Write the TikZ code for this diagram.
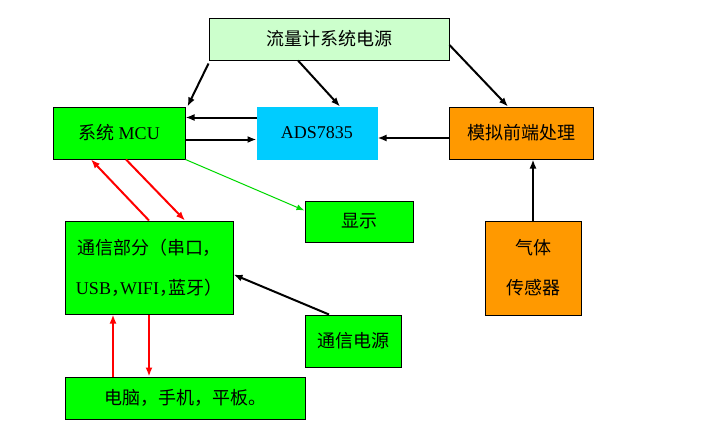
\documentclass[tikz,border=0pt]{standalone}
\usepackage{fontspec}
\setmainfont{Liberation Serif}
\newfontfamily\cjk{Noto Sans CJK SC}
\usetikzlibrary{arrows.meta}
\definecolor{lgreen}{HTML}{CCFFCC}
\definecolor{bgreen}{HTML}{00FF00}
\definecolor{acyan}{HTML}{00CCFF}
\definecolor{aorange}{HTML}{FF9900}
\newcommand{\hwcomma}{\makebox[9pt][l]{\cjk ，}}
\begin{document}
\begin{tikzpicture}[x=1pt,y=-1pt,
  box/.style={draw=black,line width=1pt,inner sep=0pt,font=\fontsize{18}{20}\selectfont},
  arr/.style={line width=2pt,-{Latex[length=9pt,width=7pt]}},
  rarr/.style={arr,draw=red,-{Latex[length=9pt,width=7pt,fill=red]}},
  garr/.style={line width=1pt,draw=bgreen!85!black,-{Latex[length=8pt,width=6pt]}}]
\useasboundingbox[fill=white] (0,0) rectangle (721,447);
\node[box,fill=lgreen,minimum width=240pt,minimum height=42pt] (pwr) at (329,39) {\cjk 流量计系统电源};
\node[box,fill=bgreen,minimum width=132pt,minimum height=52pt] (mcu) at (119,133) {{\cjk 系统} MCU};
\node[box,fill=acyan,draw=acyan,minimum width=120pt,minimum height=52pt] (ads) at (317,133) {ADS7835};
\node[box,fill=aorange,minimum width=144pt,minimum height=52pt] (afe) at (521,133) {\cjk 模拟前端处理};
\node[box,fill=bgreen,minimum width=108pt,minimum height=41pt] (disp) at (359,221.5) {\cjk 显示};
\node[box,fill=bgreen,minimum width=168pt,minimum height=93pt,align=center] (comm) at (149,267.5)
  {{\cjk 通信部分（串口，}\\[20pt] USB\hwcomma WIFI\hwcomma{\cjk 蓝牙）}};
\node[box,fill=bgreen,minimum width=96pt,minimum height=52pt] (cpwr) at (353,341) {\cjk 通信电源};
\node[box,fill=bgreen,minimum width=240pt,minimum height=42pt] (pc) at (185,398) {\cjk 电脑，手机，平板。};
\node[box,fill=aorange,minimum width=96pt,minimum height=94pt,align=center] (sens) at (533,268)
  {{\cjk 气体}\\[20pt]{\cjk 传感器}};
% black arrows
\draw[arr] ([yshift=-3pt]pwr.south west) -- ([xshift=2pt]mcu.north east);
\draw[arr] ([xshift=-31pt]pwr.south) -- ([xshift=23pt]ads.north);
\draw[arr] ([yshift=-6pt]pwr.east) -- ([xshift=-13pt]afe.north);
\draw[arr] ([yshift=-11pt]ads.north west) -- ([yshift=-11pt]mcu.north east);
\draw[arr] ([yshift=20pt]mcu.south east) -- ([yshift=20pt]ads.south west);
\draw[arr] ([yshift=-5pt]afe.west) -- ([yshift=-5pt]ads.east);
\draw[arr] (sens.north) -- ([xshift=12pt]afe.south);
\draw[arr] ([xshift=-24pt]cpwr.north) -- ([yshift=-7pt]comm.east);
% green arrow
\draw[garr] (mcu.south east) -- ([yshift=-10pt]disp.north west);
% red arrows
\draw[rarr] (comm.north) -- ([xshift=-28pt]mcu.south);
\draw[rarr] ([xshift=7pt]mcu.south) -- ([xshift=36pt]comm.north);
\draw[rarr] ([xshift=-72pt]pc.north) -- ([xshift=-36pt]comm.south);
\draw[rarr] (comm.south) -- ([xshift=-36pt]pc.north);
\end{tikzpicture}
\end{document}
